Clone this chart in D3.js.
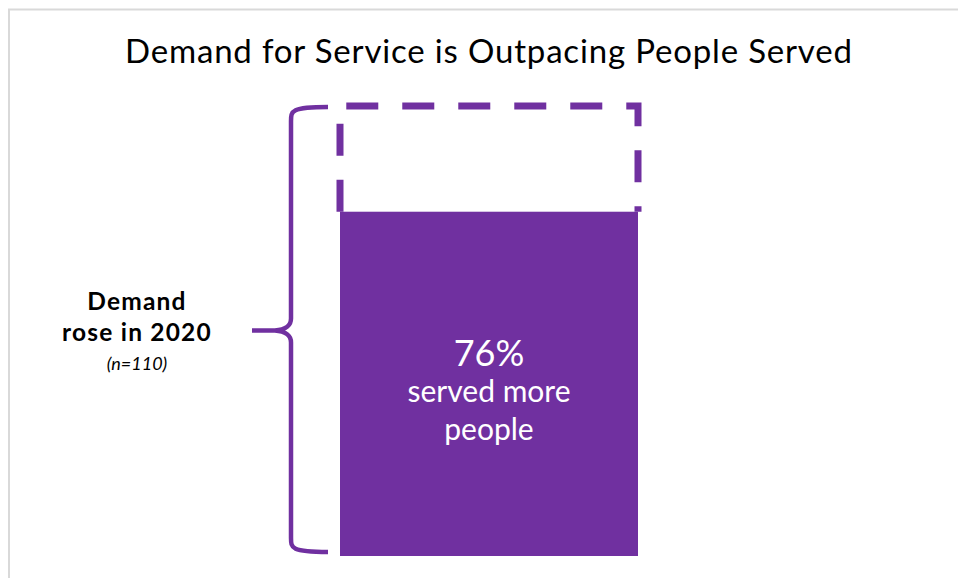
<!DOCTYPE html>
<html>
<head>
<meta charset="utf-8">
<script src="https://cdn.jsdelivr.net/npm/d3@7"></script>
<style>
  html, body { margin: 0; padding: 0; background: #fff; }
  svg { display: block; }
</style>
</head>
<body>
<svg id="chart" width="958" height="578"></svg>
<script>
// Share of organisations where demand rose in 2020 (the whole bracket = 100%)
const categories = ["Demand rose in 2020"];
const demandTotal = [100];
const servedMore = [76];
const titleText = "Demand for Service is Outpacing People Served";
const sideLabel = ["Demand", "rose in 2020"];
const sampleNote = "(n=110)";
const barLabel = ["served more", "people"];

const purple = "#7030A0";
const svg = d3.select("#chart");

// Frame lines along the top and left edge
svg.append("path")
  .attr("d", "M9,578 V9.5 H958")
  .attr("fill", "none")
  .attr("stroke", "#d9d9d9")
  .attr("stroke-width", 2);

// Title
svg.append("text")
  .attr("x", 125).attr("y", 63)
  .attr("font-family", "Lato, 'Open Sans', sans-serif")
  .attr("font-size", 33)
  .attr("textLength", 727)
  .attr("lengthAdjust", "spacing")
  .attr("fill", "#000")
  .text(titleText);

const x = d3.scaleBand().domain(categories).range([340, 638]).padding(0);
const y = d3.scaleLinear().domain([0, 100]).range([556, 103]);

const cat = categories[0];
const x0 = x(cat), x1 = x(cat) + x.bandwidth();

// Solid bar: people served
svg.append("g").selectAll("rect.served")
  .data(servedMore)
  .join("rect")
  .attr("class", "served")
  .attr("x", x0)
  .attr("width", x.bandwidth())
  .attr("y", d => y(d))
  .attr("height", d => y(0) - y(d))
  .attr("fill", purple);

// Dashed outline: remaining demand above the bar
svg.append("g").selectAll("path.gap")
  .data(demandTotal)
  .join("path")
  .attr("class", "gap")
  .attr("d", d => `M${x0},${y(servedMore[0])} V${y(d) + 3} H${x1} V${y(servedMore[0])}`)
  .attr("fill", "none")
  .attr("stroke", purple)
  .attr("stroke-width", 7)
  .attr("stroke-dasharray", "32 24")
  .attr("stroke-dashoffset", 0);

// Curly bracket spanning the full demand range
const bTop = y(demandTotal[0]) + 4, bBot = y(0) - 4;
const bMid = (bTop + bBot) / 2 + 1;
const bx = 291, bEnd = 328, tipX = 252;
const bracket = d3.path();
bracket.moveTo(bEnd, bTop);
bracket.bezierCurveTo(bx, bTop, bx, bTop + 4, bx, bTop + 14);
bracket.lineTo(bx, bMid - 12);
bracket.bezierCurveTo(bx, bMid - 4, bx - 6, bMid - 1, bx - 16, bMid);
bracket.lineTo(tipX, bMid);
bracket.moveTo(bx - 16, bMid);
bracket.bezierCurveTo(bx - 6, bMid + 1, bx, bMid + 4, bx, bMid + 12);
bracket.lineTo(bx, bBot - 14);
bracket.bezierCurveTo(bx, bBot - 4, bx, bBot, bEnd, bBot);
svg.append("path")
  .attr("d", bracket.toString())
  .attr("fill", "none")
  .attr("stroke", purple)
  .attr("stroke-width", 4.5);

// Side label
const side = svg.append("g")
  .attr("font-family", "Lato, 'Open Sans', sans-serif")
  .attr("text-anchor", "middle")
  .attr("fill", "#000");
side.selectAll("text.side")
  .data(sideLabel)
  .join("text")
  .attr("class", "side")
  .attr("x", 137)
  .attr("y", (d, i) => 310 + i * 31)
  .attr("font-size", 24.5)
  .attr("font-weight", "bold")
  .attr("letter-spacing", 1.2)
  .text(d => d);
side.append("text")
  .attr("x", 137).attr("y", 370)
  .attr("font-size", 18)
  .attr("font-style", "italic")
  .text(sampleNote);

// Value label inside the bar
const lbl = svg.append("g")
  .attr("font-family", "Lato, 'Open Sans', sans-serif")
  .attr("text-anchor", "middle")
  .attr("fill", "#fff");
lbl.append("text")
  .attr("x", x0 + x.bandwidth() / 2).attr("y", 366)
  .attr("font-size", 36)
  .text(d3.format(".0f")(servedMore[0]) + "%");
lbl.selectAll("text.sub")
  .data(barLabel)
  .join("text")
  .attr("class", "sub")
  .attr("x", x0 + x.bandwidth() / 2)
  .attr("y", (d, i) => 402 + i * 38)
  .attr("font-size", 30)
  .text(d => d);
</script>
</body>
</html>
